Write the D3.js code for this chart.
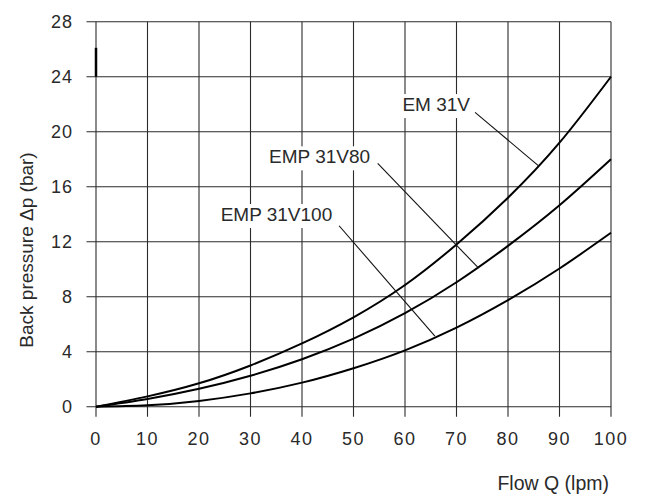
<!DOCTYPE html>
<html>
<head>
<meta charset="utf-8">
<script src="https://cdn.jsdelivr.net/npm/d3@7"></script>
<style>
  html, body { margin: 0; padding: 0; background: #fff; }
  svg { display: block; }
</style>
</head>
<body>
<svg id="chart" width="646" height="497"></svg>
<script>
// ---- data ----
const flow = [0, 10, 20, 30, 40, 50, 60, 70, 80, 90, 100];
const em31v      = [0, 0.75, 1.7, 3.0, 4.6, 6.5, 8.85, 11.8, 15.2, 19.2, 24];
const emp31v80   = [0, 0.56, 1.3, 2.25, 3.45, 4.95, 6.8, 9.05, 11.7, 14.65, 18];
const emp31v100  = [0, 0.1, 0.42, 0.97, 1.75, 2.8, 4.1, 5.75, 7.75, 10.05, 12.65];
const seriesNames = ["EM 31V", "EMP 31V80", "EMP 31V100"];
const xTicks = [0, 10, 20, 30, 40, 50, 60, 70, 80, 90, 100];
const yTicks = [0, 4, 8, 12, 16, 20, 24, 28];
const xTitle = "Flow Q (lpm)";
const yTitle = "Back pressure \u0394p (bar)";
// label anchor (data units) and leader line (from -> to on curve)
const labelPos   = [[59.5, 21.5], [33.6, 17.7], [24.2, 13.5]];
const leaderFrom = [[73.6, 21.4], [54.7, 17.7], [47.2, 13.16]];
const leaderTo   = [[86.0, 17.5], [74.3, 10.07], [65.8, 5.14]];

// ---- layout ----
const svg = d3.select("#chart");
const x = d3.scaleLinear().domain([0, 100]).range([96, 611]);
const y = d3.scaleLinear().domain([0, 28]).range([406.7, 21.7]);
const gridColor = "#2b2b2b";
const textColor = "#2a2a2a";
const font = "'Liberation Sans', Arial, Helvetica, sans-serif";

// grid (vertical) with tick extension below
const gx = svg.append("g");
gx.selectAll("line").data(xTicks).join("line")
  .attr("x1", d => x(d)).attr("x2", d => x(d))
  .attr("y1", y(28)).attr("y2", y(0) + 10)
  .attr("stroke", gridColor).attr("stroke-width", 1.1);
// grid (horizontal) with tick extension left
const gy = svg.append("g");
gy.selectAll("line").data(yTicks).join("line")
  .attr("x1", x(0) - 9.5).attr("x2", x(100))
  .attr("y1", d => y(d)).attr("y2", d => y(d))
  .attr("stroke", gridColor).attr("stroke-width", 1.1);

// small thick mark on the y axis (as in the reference)
svg.append("line")
  .attr("x1", x(0)).attr("x2", x(0))
  .attr("y1", y(24)).attr("y2", y(26.1))
  .attr("stroke", "#000").attr("stroke-width", 2.5);

// tick labels
svg.append("g").selectAll("text").data(xTicks).join("text")
  .attr("x", d => x(d)).attr("y", 444.5)
  .attr("text-anchor", "middle")
  .attr("font-family", font).attr("font-size", 18)
  .attr("letter-spacing", 1.5)
  .attr("fill", textColor)
  .text(d => d);
svg.append("g").selectAll("text").data(yTicks).join("text")
  .attr("x", 73).attr("y", d => y(d))
  .attr("dy", "0.36em")
  .attr("text-anchor", "end")
  .attr("font-family", font).attr("font-size", 18)
  .attr("letter-spacing", 1)
  .attr("fill", textColor)
  .text(d => d);

// axis titles
svg.append("text")
  .attr("x", 609).attr("y", 490)
  .attr("text-anchor", "end")
  .attr("font-family", font).attr("font-size", 19.5)
  .attr("fill", textColor)
  .text(xTitle);
svg.append("text")
  .attr("transform", "translate(33,250) rotate(-90)")
  .attr("text-anchor", "middle")
  .attr("font-family", font).attr("font-size", 19)
  .attr("fill", textColor)
  .text(yTitle);

// curves
const allSeries = [em31v, emp31v80, emp31v100];
const line = d3.line()
  .x(d => x(d[0])).y(d => y(d[1]))
  .curve(d3.curveNatural);
svg.append("g").selectAll("path").data(allSeries).join("path")
  .attr("d", s => line(flow.map((f, i) => [f, s[i]])))
  .attr("fill", "none").attr("stroke", "#000").attr("stroke-width", 2);

// leader lines
svg.append("g").selectAll("line").data(seriesNames).join("line")
  .attr("x1", (d, i) => x(leaderFrom[i][0])).attr("y1", (d, i) => y(leaderFrom[i][1]))
  .attr("x2", (d, i) => x(leaderTo[i][0])).attr("y2", (d, i) => y(leaderTo[i][1]))
  .attr("stroke", "#111").attr("stroke-width", 1.1);

// labels with white background
const lg = svg.append("g");
seriesNames.forEach((name, i) => {
  const g = lg.append("g");
  const t = g.append("text")
    .attr("x", x(labelPos[i][0])).attr("y", y(labelPos[i][1]))
    .attr("font-family", font).attr("font-size", 19)
    .attr("fill", textColor)
    .text(name);
  const bb = t.node().getBBox();
  g.insert("rect", "text")
    .attr("x", bb.x - 3).attr("y", bb.y)
    .attr("width", bb.width + 6).attr("height", bb.height + 3)
    .attr("fill", "#fff");
});
</script>
</body>
</html>
